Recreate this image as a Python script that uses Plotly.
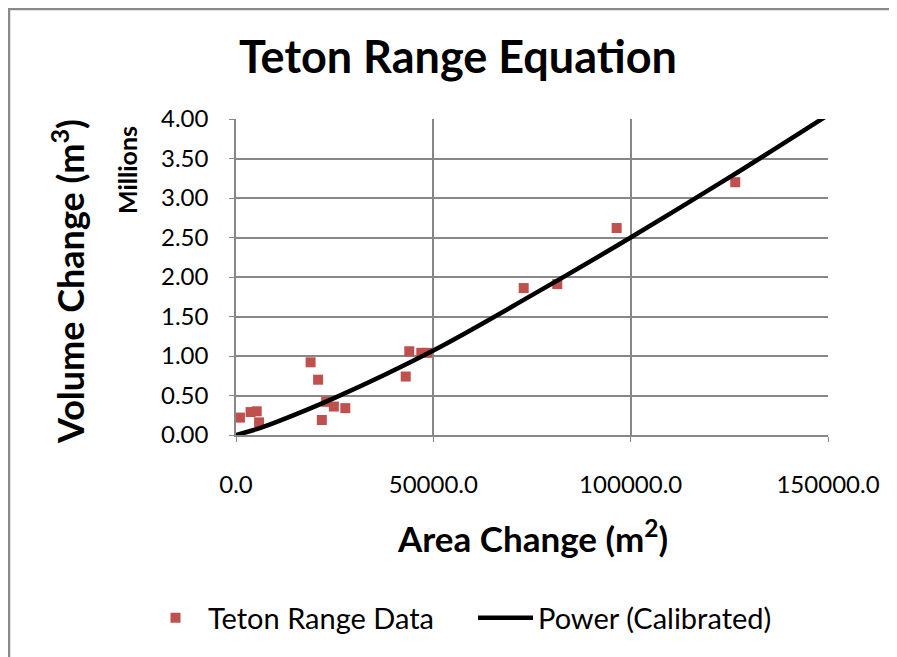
import plotly.graph_objects as go

# Observed data (area change in m², volume change in millions of m³)
area_change = [1000, 3700, 5250, 5850, 18900, 20800, 21750, 22850, 24800, 27700,
               43000, 43900, 46950, 48400, 72900, 81400, 96450, 126500]
volume_change_millions = [0.22, 0.29, 0.30, 0.16, 0.92, 0.70, 0.19, 0.42, 0.36, 0.34,
                          0.74, 1.06, 1.04, 1.04, 1.86, 1.91, 2.62, 3.20]

# Calibrated power curve
curve_area = [0, 5000, 10000, 25000, 50000, 75000, 100000, 125000, 150000]
curve_volume_millions = [0.0, 0.07, 0.16, 0.47, 1.07, 1.77, 2.50, 3.26, 4.05]

x_ticks = [0, 50000, 100000, 150000]
y_ticks = [0, 0.5, 1.0, 1.5, 2.0, 2.5, 3.0, 3.5, 4.0]

FONT = "Lato, Carlito, Calibri, sans-serif"
GRID = "#878787"

W, H = 897, 657
OFF = 8  # page offset of the figure
L0, T0, PW, PH = 236, 119, 592, 316   # plot area in screen pixels
L, T = L0 - OFF, T0 - OFF
R = W - L - PW
B = H - T - PH


def px(xp):
    return (xp - L0) / PW


def py(yp):
    return (T0 + PH - yp) / PH


fig = go.Figure()
fig.add_trace(go.Scatter(
    x=area_change, y=volume_change_millions, mode="markers",
    name="Teton Range Data",
    marker=dict(symbol="square", size=10, color="#C0504D"),
))
fig.add_trace(go.Scatter(
    x=curve_area, y=curve_volume_millions, mode="lines",
    name="Power (Calibrated)",
    line=dict(color="black", width=4.5, shape="spline"),
))

fig.update_layout(
    width=W, height=H,
    margin=dict(l=L, r=R, t=T, b=B),
    paper_bgcolor="white", plot_bgcolor="white",
    font=dict(family=FONT, size=24, color="black"),
    showlegend=True,
    legend=dict(orientation="h", x=px(143), xanchor="left", y=py(618), yanchor="middle",
                font=dict(family=FONT, size=29), itemwidth=55, entrywidth=260,
                entrywidthmode="pixels", bgcolor="rgba(0,0,0,0)"),
    xaxis=dict(range=[0, 150000], tickvals=x_ticks, tickformat=".1f",
               showgrid=True, gridcolor=GRID, gridwidth=1.5,
               showline=True, linecolor=GRID, linewidth=1.5,
               ticks="outside", ticklen=5, tickcolor=GRID, ticklabelstandoff=22,
               zeroline=False, tickfont=dict(family=FONT, size=24)),
    yaxis=dict(range=[0, 4.0], tickvals=y_ticks, tickformat=".2f",
               showgrid=True, gridcolor=GRID, gridwidth=1.5,
               showline=True, linecolor=GRID, linewidth=1.5,
               ticks="outside", ticklen=5, tickcolor=GRID, ticklabelstandoff=16,
               zeroline=False, tickfont=dict(family=FONT, size=24)),
    annotations=[
        dict(text="<b>Teton Range Equation</b>", x=px(458), y=py(56), xref="paper", yref="paper",
             showarrow=False, font=dict(family=FONT, size=45), xanchor="center", yanchor="middle"),
        dict(text="<b>Volume Change (m<sup>3</sup>)</b>", x=px(68), y=py(282), xref="paper", yref="paper",
             showarrow=False, textangle=-90, font=dict(family=FONT, size=36),
             xanchor="center", yanchor="middle"),
        dict(text="<b>Millions</b>", x=px(127), y=py(170), xref="paper", yref="paper",
             showarrow=False, textangle=-90, font=dict(family=FONT, size=25),
             xanchor="center", yanchor="middle"),
        dict(text="<b>Area Change (m<sup>2</sup>)</b>", x=px(532), y=py(536), xref="paper", yref="paper",
             showarrow=False, font=dict(family=FONT, size=35), xanchor="center", yanchor="middle"),
    ],
    shapes=[
        dict(type="path", xref="paper", yref="paper",
             path=f"M {px(9)},{py(670)} L {px(9)},{py(9)} L {px(910)},{py(9)}",
             line=dict(color="#8a8a8a", width=2.5)),
    ],
)

fig.write_html("out.html")
